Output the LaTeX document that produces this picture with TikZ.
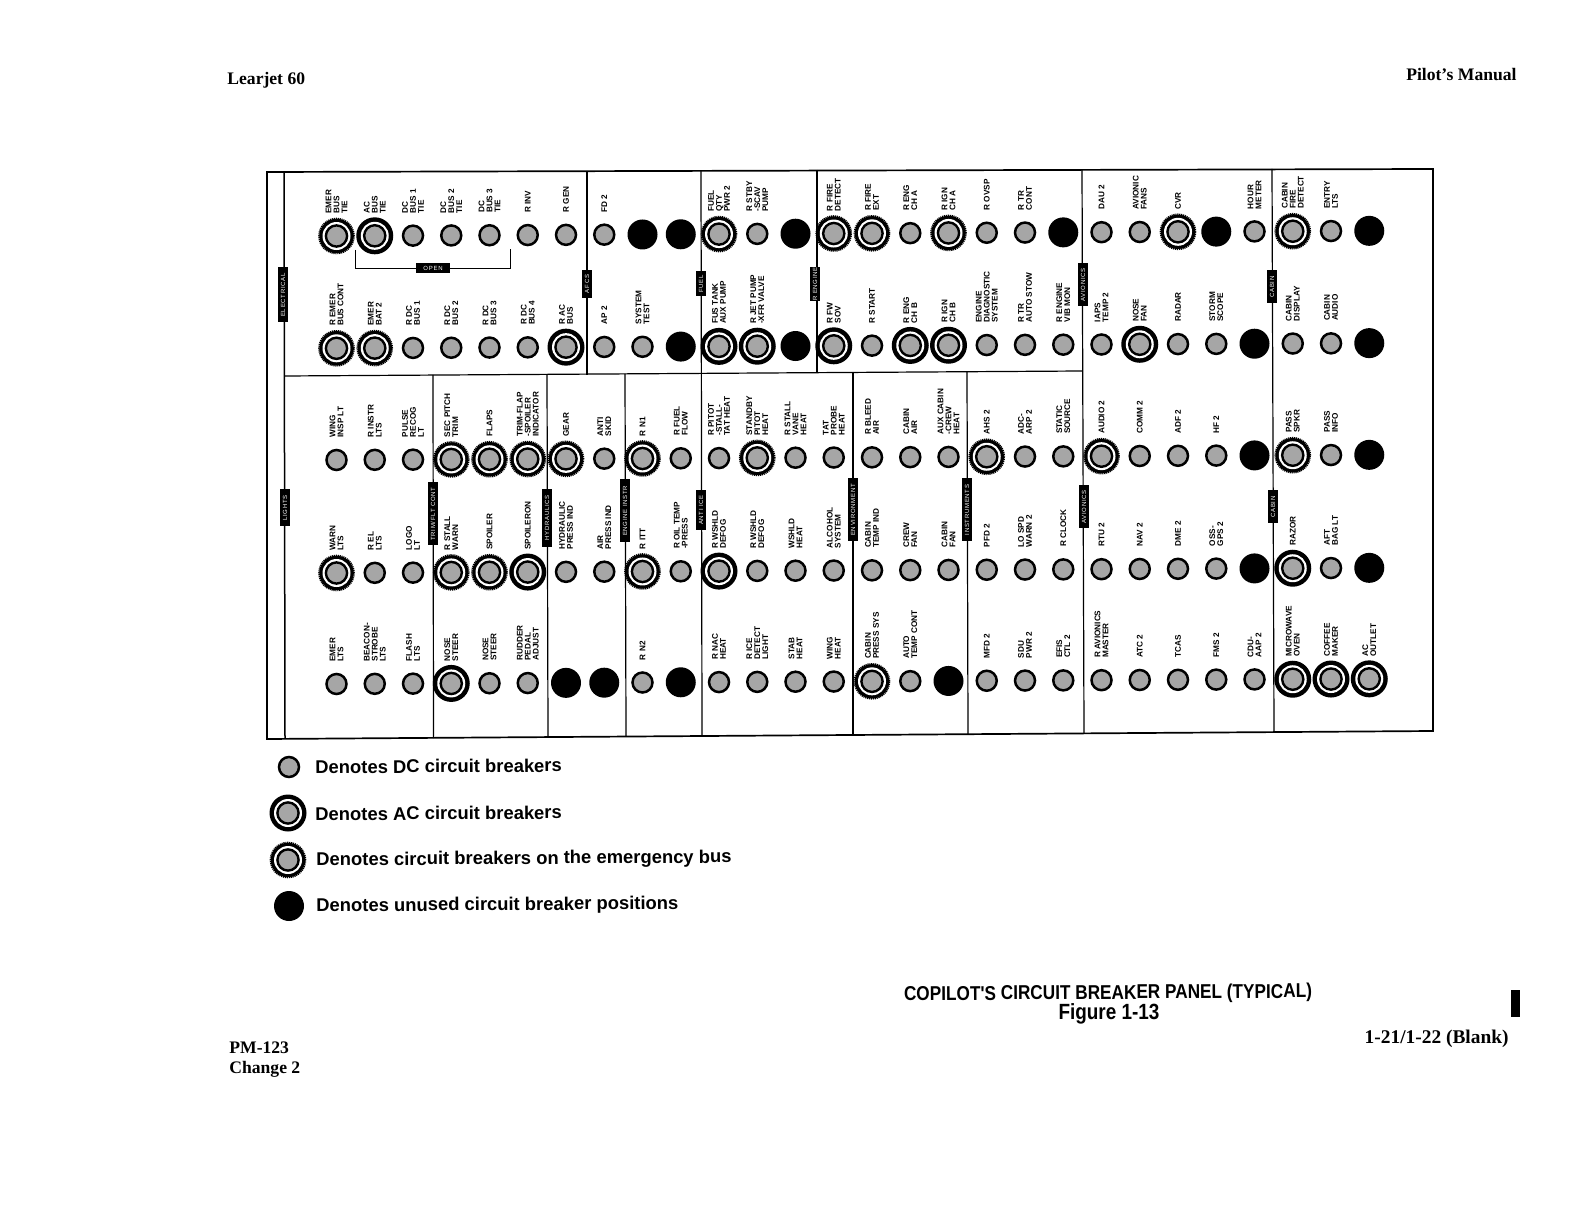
\documentclass[tikz,border=0pt]{standalone}
\usepackage{fontspec}
\setmainfont{Liberation Serif}
\setsansfont{Liberation Sans}
\newfontfamily\tagfont[LetterSpace=12]{Liberation Sans}
\newfontfamily\capfont[FakeStretch=0.86]{Liberation Sans}
\usetikzlibrary{positioning}

\tikzset{
  brkdc/.style={circle, draw=black, line width=1.25pt, fill=black!35, inner sep=0pt, minimum size=10pt},
  brkac/.style={circle, fill=black, inner sep=0pt, minimum size=18.5pt,
    path picture={\fill[white] (path picture bounding box.center) circle (7pt);
      \draw[line width=1.2pt, fill=black!35] (path picture bounding box.center) circle (5.3pt);}},
  brkem/.style={circle, fill=black, draw=black, line width=1.1pt, dash pattern=on 0.55pt off 0.4pt, inner sep=0pt, minimum size=17.2pt,
    path picture={\fill[white] (path picture bounding box.center) circle (7pt);
      \draw[line width=1.2pt, solid, fill=black!35] (path picture bounding box.center) circle (5.3pt);}},
  brkun/.style={circle, fill=black, inner sep=0pt, minimum size=15pt},
  brklbl/.style={rotate=90, anchor=west, align=left, inner sep=0pt, font=\sffamily\bfseries\fontsize{4.1}{4}\selectfont},
  sectag/.style={fill=black, text=white, rotate=90, inner sep=0pt, minimum height=4.6pt, font=\tagfont\fontsize{3}{3}\selectfont},
  legtxt/.style={anchor=west, inner sep=0pt, rotate=0.4, font=\sffamily\bfseries\fontsize{9.2}{10}\selectfont},
  pagetxt/.style={inner sep=0pt, font=\bfseries\fontsize{8.8}{10}\selectfont},
}

% row number, y of the row, breakers with labels, unused positions
\newcommand{\brkrow}[4]{
  \foreach \c/\k/\t in {#3} {
    \node[\k] (r#1c\c) at ({336.5+38.25*\c},-#2) {};
    \node[brklbl] (l#1c\c) at ([yshift=11pt]r#1c\c.center) {\t};
  }
  \foreach \c in {#4}
    \node[brkun] (r#1c\c) at ({336.5+38.25*\c},-#2) {};
}

\begin{document}
\begin{tikzpicture}[x=0.5pt, y=0.5pt]
  \useasboundingbox (0,0) rectangle (1584,-1224);

  % panel frame and dividers
  \draw[line width=0.85pt] (267,-172) -- (1433,-169) -- (1433,-731) -- (267,-739) -- cycle;
  \draw[line width=0.75pt] (284,-172) -- (285,-738);
  \draw[line width=0.6pt] (587,-171) -- (587,-375);
  \draw[line width=0.6pt] (701,-171) -- (702,-735);
  \draw[line width=0.6pt] (817,-170) -- (817,-372);
  \draw[line width=0.6pt] (1082,-170) -- (1084,-733);
  \draw[line width=0.6pt] (1272,-169) -- (1274,-732);
  \draw[line width=0.6pt] (285,-376) -- (1082,-371);
  \draw[line width=0.6pt] (433,-375) -- (433.5,-738);
  \draw[line width=0.6pt] (547,-375) -- (548,-737);
  \draw[line width=0.6pt] (625,-374) -- (626,-736);
  \draw[line width=0.6pt] (853,-372) -- (853,-735);
  \draw[line width=0.6pt] (967,-372) -- (968,-734);

  % section tags
  \node[sectag, minimum width=27.5pt] (tagElec) at (283,-295) {ELECTRICAL};
  \node[sectag, minimum width=14pt] (tagAfcs) at (587,-284) {AFCS};
  \node[sectag, minimum width=12.5pt] (tagFuel) at (701,-284) {FUEL};
  \node[sectag, minimum width=17pt] (tagEng) at (815,-284) {R ENGINE};
  \node[sectag, minimum width=21.5pt] (tagAvi) at (1083,-285) {AVIONICS};
  \node[sectag, minimum width=16.5pt] (tagCab) at (1272,-287) {CABIN};
  \node[sectag, minimum width=18.5pt] (tagLts) at (285,-508) {LIGHTS};
  \node[sectag, minimum width=31.5pt] (tagTrim) at (433,-514) {TRIM/FLT CONT};
  \node[sectag, minimum width=29pt] (tagHyd) at (547,-518) {HYDRAULICS};
  \node[sectag, minimum width=31.5pt] (tagInstr) at (625,-511) {ENGINE INSTR};
  \node[sectag, minimum width=20pt] (tagIce) at (701,-510) {ANTI ICE};
  \node[sectag, minimum width=31.5pt] (tagEnv) at (853,-510) {ENVIRONMENT};
  \node[sectag, minimum width=31.5pt] (tagIns) at (967,-510) {INSTRUMENTS};
  \node[sectag, minimum width=21.5pt] (tagAvi2) at (1084,-507) {AVIONICS};
  \node[sectag, minimum width=16.5pt] (tagCab2) at (1273,-507) {CABIN};

  % breakers
  \begin{scope}[yslant=0.005]
    \brkrow{1}{237.7}{0/brkem/EMER\\BUS\\TIE, 1/brkac/AC\\BUS\\TIE, 2/brkdc/DC\\BUS 1\\TIE, 3/brkdc/DC\\BUS 2\\TIE,
      4/brkdc/DC\\BUS 3\\TIE, 5/brkdc/R INV, 6/brkdc/R GEN, 7/brkdc/FD 2, 10/brkem/FUEL\\QTY\\PWR 2,
      11/brkdc/R STBY\\-SCAV\\PUMP, 13/brkem/R FIRE\\DETECT, 14/brkem/R FIRE\\EXT, 15/brkdc/R ENG\\CH A,
      16/brkem/R IGN\\CH A, 17/brkdc/R OVSP, 18/brkdc/R TR\\CONT, 20/brkdc/DAU 2, 21/brkdc/AVIONIC\\FANS,
      22/brkem/CVR, 24/brkdc/HOUR\\METER, 25/brkem/CABIN\\FIRE\\DETECT, 26/brkdc/ENTRY\\LTS}{8,9,12,19,23,27}
    \brkrow{2}{350}{0/brkem/R EMER\\BUS CONT, 1/brkem/EMER\\BAT 2, 2/brkdc/R DC\\BUS 1, 3/brkdc/R DC\\BUS 2,
      4/brkdc/R DC\\BUS 3, 5/brkdc/R DC\\BUS 4, 6/brkac/R AC\\BUS, 7/brkdc/AP 2, 8/brkdc/SYSTEM\\TEST,
      10/brkac/FUS TANK\\AUX PUMP, 11/brkac/R JET PUMP\\-XFR VALVE, 13/brkac/R FW\\SOV, 14/brkdc/R START,
      15/brkac/R ENG\\CH B, 16/brkac/R IGN\\CH B, 17/brkdc/ENGINE\\DIAGNOSTIC\\SYSTEM, 18/brkdc/R TR\\AUTO STOW,
      19/brkdc/R ENGINE\\VIB MON, 20/brkdc/IAPS\\TEMP 2, 21/brkac/NOSE\\FAN, 22/brkdc/RADAR, 23/brkdc/STORM\\SCOPE,
      25/brkdc/CABIN\\DISPLAY, 26/brkdc/CABIN\\AUDIO}{9,12,24,27}
    \brkrow{3}{461.7}{0/brkdc/WING\\INSP LT, 1/brkdc/R INSTR\\LTS, 2/brkdc/PULSE\\RECOG\\LT, 3/brkem/SEC PITCH\\TRIM,
      4/brkem/FLAPS, 5/brkem/TRIM-FLAP\\-SPOILER\\INDICATOR, 6/brkem/GEAR, 7/brkdc/ANTI\\SKID, 8/brkem/R N1,
      9/brkdc/R FUEL\\FLOW, 10/brkdc/R PITOT\\-STALL-\\TAT HEAT, 11/brkem/STANDBY\\PITOT\\HEAT, 12/brkdc/R STALL\\VANE\\HEAT,
      13/brkdc/TAT\\PROBE\\HEAT, 14/brkdc/R BLEED\\AIR, 15/brkdc/CABIN\\AIR, 16/brkdc/AUX CABIN\\-CREW\\HEAT,
      17/brkem/AHS 2, 18/brkdc/ADC-\\ARP 2, 19/brkdc/STATIC\\SOURCE, 20/brkem/AUDIO 2, 21/brkdc/COMM 2, 22/brkdc/ADF 2,
      23/brkdc/HF 2, 25/brkem/PASS\\SPKR, 26/brkdc/PASS\\INFO}{24,27}
    \brkrow{4}{574.7}{0/brkem/WARN\\LTS, 1/brkdc/R EL\\LTS, 2/brkdc/LOGO\\LT, 3/brkem/R STALL\\WARN, 4/brkem/SPOILER,
      5/brkac/SPOILERON, 6/brkdc/HYDRAULIC\\PRESS IND, 7/brkdc/AIR\\PRESS IND, 8/brkem/R ITT, 9/brkdc/R OIL TEMP\\-PRESS,
      10/brkac/R WSHLD\\DEFOG, 11/brkdc/R WSHLD\\DEFOG, 12/brkdc/WSHLD\\HEAT, 13/brkdc/ALCOHOL\\SYSTEM, 14/brkdc/CABIN\\TEMP IND,
      15/brkdc/CREW\\FAN, 16/brkdc/CABIN\\FAN, 17/brkdc/PFD 2, 18/brkdc/LO SPD\\WARN 2, 19/brkdc/R CLOCK, 20/brkdc/RTU 2,
      21/brkdc/NAV 2, 22/brkdc/DME 2, 23/brkdc/OSS-\\GPS 2, 25/brkac/RAZOR, 26/brkdc/AFT\\BAG LT}{24,27}
    \brkrow{5}{685.7}{0/brkdc/EMER\\LTS, 1/brkdc/BEACON-\\STROBE\\LTS, 2/brkdc/FLASH\\LTS, 3/brkac/NOSE\\STEER, 4/brkdc/NOSE\\STEER,
      5/brkdc/RUDDER\\PEDAL\\ADJUST, 8/brkdc/R N2, 10/brkdc/R NAC\\HEAT, 11/brkdc/R ICE\\DETECT\\LIGHT, 12/brkdc/STAB\\HEAT,
      13/brkdc/WING\\HEAT, 14/brkem/CABIN\\PRESS SYS, 15/brkdc/AUTO\\TEMP CONT, 17/brkdc/MFD 2, 18/brkdc/SDU\\PWR 2, 19/brkdc/EFIS\\CTL 2,
      20/brkdc/R AVIONICS\\MASTER, 21/brkdc/ATC 2, 22/brkdc/TCAS, 23/brkdc/FMS 2, 24/brkdc/CDU-\\AAP 2, 25/brkac/MICROWAVE\\OVEN,
      26/brkac/COFFEE\\MAKER, 27/brkac/AC\\OUTLET}{6,7,9,16}
  \end{scope}

  % open bracket
  \coordinate (openL) at (355,-250);
  \coordinate (openR) at (510,-249);
  \node[fill=black, text=white, inner sep=0pt, minimum width=17pt, minimum height=4.6pt, font=\tagfont\fontsize{3}{3}\selectfont] (open) at (433,-268) {OPEN};
  \draw[line width=0.4pt] (openL) |- (open) -| (openR);

  % legend
  \node[brkdc] (legDC) at (289,-767) {};
  \node[brkac] (legAC) at (288,-813) {};
  \node[brkem] (legEM) at (288,-860) {};
  \node[brkun] (legUN) at (289,-906) {};
  \node[legtxt] (txtDC) at (315,-767) {Denotes DC circuit breakers};
  \node[legtxt] (txtAC) at (315,-814) {Denotes AC circuit breakers};
  \node[legtxt] (txtEM) at (316,-861) {Denotes circuit breakers on the emergency bus};
  \node[legtxt] (txtUN) at (316,-907) {Denotes unused circuit breaker positions};

  % page text
  \node[pagetxt, anchor=west] (hdrL) at (227,-80) {Learjet 60};
  \node[pagetxt, anchor=east] (hdrR) at (1517,-75) {Pilot's Manual};
  \node[pagetxt, anchor=west] (ftrA) at (229,-1048) {PM-123};
  \node[pagetxt, anchor=west] (ftrB) at (229,-1069) {Change 2};
  \node[pagetxt, anchor=east, font=\bfseries\fontsize{9.7}{10}\selectfont] (ftrR) at (1509,-1039) {1-21/1-22 (Blank)};
  \node[inner sep=0pt, rotate=0.4, font=\capfont\bfseries\fontsize{10}{11}\selectfont] (capA) at (1108,-994) {COPILOT'S CIRCUIT BREAKER PANEL (TYPICAL)};
  \node[inner sep=0pt, font=\capfont\bfseries\fontsize{11}{12}\selectfont] (capB) at (1109,-1014) {Figure 1-13};
  \fill[black] (1511,-990) rectangle (1520,-1017);
\end{tikzpicture}
\end{document}
